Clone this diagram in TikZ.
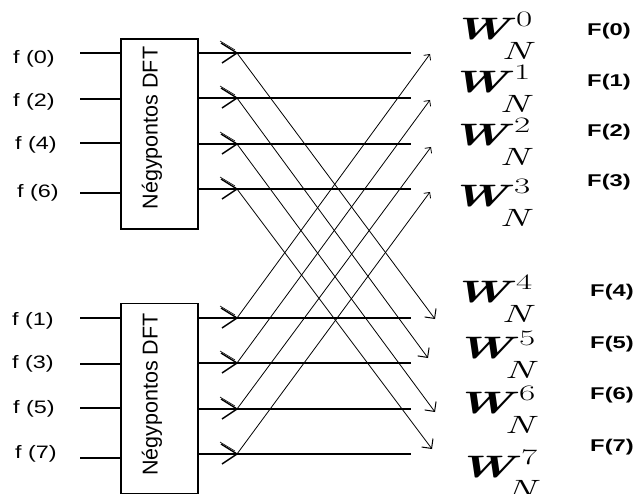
\documentclass[tikz,border=0pt]{standalone}
\usepackage{fontspec}
\usepackage{graphicx}
\usetikzlibrary{arrows.meta}
\newfontfamily\arialw[FakeStretch=1.3]{Liberation Sans}
\newfontfamily\arialbw[FakeStretch=1.4]{Liberation Sans}
\newfontfamily\arialn{Liberation Sans}
\newcommand\Wlab[1]{\scalebox{1.6}[1]{\fontsize{31}{31}\selectfont\bfseries\itshape W\kern-5pt\rlap{\kern9pt\raisebox{13pt}{\fontsize{22}{22}\selectfont\mdseries\upshape #1}}\raisebox{-20pt}{\fontsize{25}{25}\selectfont\mdseries\itshape N}}}
\begin{document}
\begin{tikzpicture}[x=1pt,y=-1pt,
  box/.style={draw,line width=1.1pt,minimum width=77pt,minimum height=190pt,inner sep=0pt},
  boxtxt/.style={rotate=90,inner sep=0pt,font=\arialn\fontsize{21.5}{21.5}\selectfont},
  inlab/.style={anchor=west,inner sep=0pt,font=\arialw\fontsize{18}{18}\selectfont},
  flab/.style={anchor=west,inner sep=0pt,font=\arialbw\bfseries\fontsize{17}{17}\selectfont},
  wlab/.style={anchor=base west,inner sep=0pt},
  inline/.style={line width=1.1pt},
  hline/.style={line width=1.1pt},
  diag/.style={line width=0.8pt},
  upar/.style={diag,-{Straight Barb[angle=90:6pt,line width=0.8pt]}},
  dnar/.style={diag,-{Straight Barb[angle=90:10pt,line width=1pt]}},
  chev/.style={line width=1.4pt}
]
\useasboundingbox (0,0) rectangle (639,494);

% boxes
\node[box] (b1) at (159.5,134) {};
\node[box] (b2) at (159.5,398.5) {};
\node[boxtxt] (t1) at (152,128) {Négypontos DFT};
\node[boxtxt] (t2) at (152,394.5) {Négypontos DFT};

% input labels
\node[inlab] (f0) at (13,59) {f (0)};
\node[inlab] (f2) at (13,101.5) {f (2)};
\node[inlab] (f4) at (15,145) {f (4)};
\node[inlab] (f6) at (17,192.5) {f (6)};
\node[inlab] (f1) at (12,321) {f (1)};
\node[inlab] (f3) at (12,364) {f (3)};
\node[inlab] (f5) at (13,408.5) {f (5)};
\node[inlab] (f7) at (15,453.5) {f (7)};

% input line coordinates
\foreach \n/\y in {a0/53,a2/99,a4/143,a6/193,a1/318,a3/364,a5/408,a7/458}{
  \coordinate (\n s) at (80,\y);
  \coordinate (\n e) at (121,\y);
}
\foreach \n in {a0,a2,a4,a6,a1,a3,a5,a7}{
  \draw[inline] (\n s) -- (\n e);
}

% outputs of the boxes: sources and ends of horizontal lines
\foreach \n/\y in {t0/53,t1/98,t2/144,t3/189,u0/318,u1/363,u2/409,u3/454}{
  \coordinate (\n o) at (198,\y);
  \coordinate (\n s) at (237,\y);
  \coordinate (\n e) at (411,\y);
  \draw[hline] (\n o) -- (\n e);
  \draw[chev] ([shift={(-16,-10)}]\n s) -- (\n s) -- ([shift={(-15,10)}]\n s);
  \draw[line width=0.6pt] ([shift={(-17,-12)}]\n s) -- ([shift={(-2,-3)}]\n s);
}

% arrow end points
\coordinate (p0) at (430,54);
\coordinate (p1) at (430,100);
\coordinate (p2) at (431,147);
\coordinate (p3) at (430,192);
\coordinate (q0) at (435,319);
\coordinate (q1) at (428,358);
\coordinate (q2) at (435,412);
\coordinate (q3) at (432,449);

\foreach \i in {0,1,2,3}{
  \draw[dnar] (t\i s) -- (q\i);
  \draw[upar] (u\i s) -- (p\i);
}

% twiddle factors
\node[wlab] (w0) at (452,40) {\Wlab{0}};
\node[wlab] (w1) at (450,93) {\Wlab{1}};
\node[wlab] (w2) at (450,146) {\Wlab{2}};
\node[wlab] (w3) at (450,207) {\Wlab{3}};
\node[wlab] (w4) at (452,302) {\Wlab{4}};
\node[wlab] (w5) at (455,358) {\Wlab{5}};
\node[wlab] (w6) at (455,413) {\Wlab{6}};
\node[wlab] (w7) at (457,477) {\Wlab{7}};

% outputs
\node[flab] (F0) at (587,31) {F(0)};
\node[flab] (F1) at (587,82) {F(1)};
\node[flab] (F2) at (587,132) {F(2)};
\node[flab] (F3) at (587,182) {F(3)};
\node[flab] (F4) at (590,292) {F(4)};
\node[flab] (F5) at (590,344) {F(5)};
\node[flab] (F6) at (590,395) {F(6)};
\node[flab] (F7) at (590,447) {F(7)};
\end{tikzpicture}
\end{document}
